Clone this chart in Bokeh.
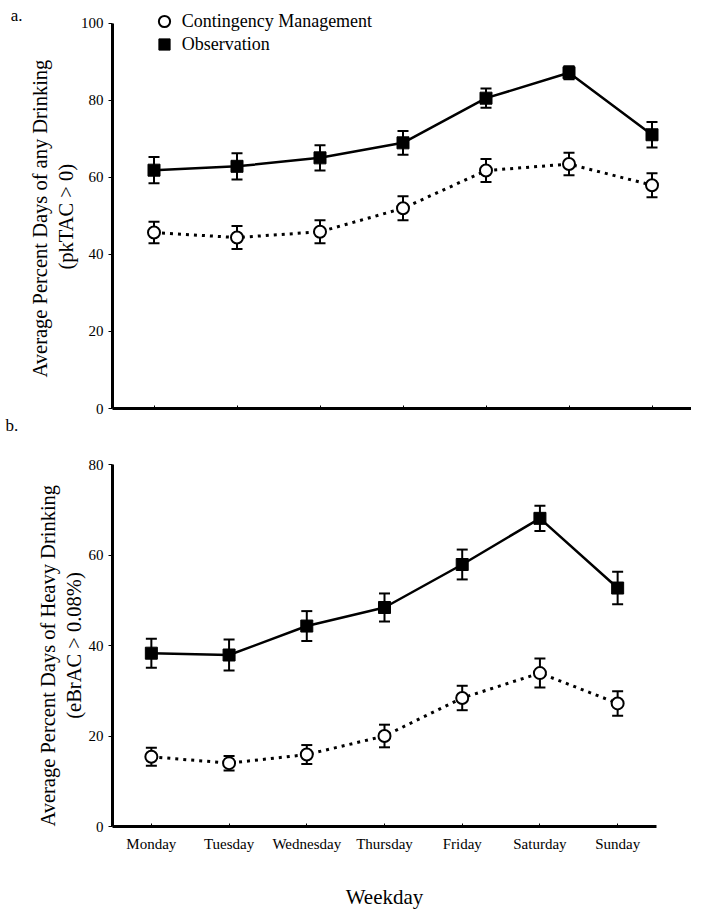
from bokeh.plotting import figure
from bokeh.models import (ColumnDataSource, Whisker, Legend, LegendItem, Title, LinearAxis,
                          FactorRange, TeeHead, Range1d, FixedTicker)
from bokeh.layouts import column
from bokeh.embed import file_html
from bokeh.resources import INLINE

days = ["Monday", "Tuesday", "Wednesday", "Thursday", "Friday", "Saturday", "Sunday"]

# Panel a: any drinking (pkTAC > 0)
a_cm = [45.7, 44.4, 45.9, 52.0, 61.8, 63.5, 58.0]
a_cm_err = [2.8, 3.0, 3.0, 3.1, 3.0, 2.9, 3.1]
a_obs = [61.9, 62.9, 65.1, 69.0, 80.6, 87.2, 71.1]
a_obs_err = [3.4, 3.4, 3.3, 3.1, 2.5, 1.7, 3.3]
a_yticks = [0, 20, 40, 60, 80, 100]

# Panel b: heavy drinking (eBrAC > 0.08%)
b_cm = [15.4, 14.0, 15.9, 20.0, 28.4, 33.9, 27.2]
b_cm_err = [2.0, 1.6, 2.1, 2.5, 2.7, 3.2, 2.7]
b_obs = [38.3, 37.9, 44.3, 48.4, 57.9, 68.1, 52.7]
b_obs_err = [3.2, 3.4, 3.3, 3.1, 3.3, 2.8, 3.6]
b_yticks = [0, 20, 40, 60, 80]

FONT = "Liberation Serif"


def side_title(p, text, side, size, **kw):
    t = Title(text=text, text_font=FONT, text_font_size=size, text_font_style="normal",
              text_color="black", **kw)
    p.add_layout(t, side)


def make_panel(cm, cm_err, obs, obs_err, yticks, ymax, yend, fw, fh, bl, bt, br, bb, show_x_labels):
    p = figure(x_range=FactorRange(*days), y_range=Range1d(0, yend),
               frame_width=fw, frame_height=fh,
               min_border_left=bl, min_border_top=bt, min_border_right=br, min_border_bottom=bb,
               output_backend="svg", toolbar_location=None)
    p.outline_line_color = None
    p.xgrid.visible = False
    p.ygrid.visible = False
    p.background_fill_color = "white"

    src = ColumnDataSource(dict(
        day=days, cm=cm, obs=obs,
        cm_lo=[v - e for v, e in zip(cm, cm_err)], cm_hi=[v + e for v, e in zip(cm, cm_err)],
        obs_lo=[v - e for v, e in zip(obs, obs_err)], obs_hi=[v + e for v, e in zip(obs, obs_err)],
    ))

    for lo, hi in (("cm_lo", "cm_hi"), ("obs_lo", "obs_hi")):
        w = Whisker(base="day", lower=lo, upper=hi, source=src, line_color="black", line_width=2,
                    upper_head=TeeHead(size=11, line_width=2, line_color="black"),
                    lower_head=TeeHead(size=11, line_width=2, line_color="black"))
        p.add_layout(w)

    p.line("day", "obs", source=src, line_color="black", line_width=2.5)
    p.line("day", "cm", source=src, line_color="black", line_width=3, line_dash="3 5")
    r_obs = p.scatter("day", "obs", source=src, marker="square", size=12,
                      fill_color="black", line_color="black")
    r_cm = p.scatter("day", "cm", source=src, marker="circle", size=12,
                     fill_color="white", line_color="black", line_width=2)

    p.yaxis.ticker = FixedTicker(ticks=yticks)
    p.yaxis.bounds = (0, ymax)
    p.yaxis.minor_tick_line_color = None
    p.yaxis.major_tick_out = 4
    p.yaxis.major_tick_in = 0
    p.yaxis.major_label_standoff = 5
    for ax in (p.xaxis[0], p.yaxis[0]):
        ax.axis_line_width = 3
        ax.axis_line_color = "black"
        ax.major_tick_line_color = "black"
        ax.major_label_text_font = FONT
        ax.major_label_text_font_size = "15px"
        ax.major_label_text_color = "black"
    p.xaxis.major_tick_in = 3
    p.xaxis.major_tick_out = 0
    if show_x_labels:
        p.xaxis.major_label_standoff = 9
        p.xaxis.axis_label = "Weekday"
        p.xaxis.axis_label_text_font = FONT
        p.xaxis.axis_label_text_font_size = "21px"
        p.xaxis.axis_label_text_font_style = "normal"
        p.xaxis.axis_label_text_color = "black"
        p.xaxis.axis_label_standoff = 30
    else:
        p.xaxis.major_label_text_font_size = "1px"
        p.xaxis.major_label_text_color = None
        p.xaxis.major_label_standoff = 0
    return p, r_cm, r_obs


def one_legend(p, label, renderer, loc):
    lg = Legend(items=[LegendItem(label=label, renderers=[renderer])],
                location=loc, glyph_height=28, glyph_width=28,
                padding=0, margin=0, label_standoff=4, border_line_color=None,
                background_fill_alpha=0, label_text_font=FONT,
                label_text_font_size="18px", label_text_color="black")
    p.add_layout(lg)


# Panel a (frame extends a little above 100 so the legend sits inside it)
pa, a_rcm, a_robs = make_panel(a_cm, a_cm_err, a_obs, a_obs_err, a_yticks, 100, 105.45,
                               581, 406, 110, 2, 0, 36, False)
one_legend(pa, "Contingency Management", a_rcm, (43, 373))
one_legend(pa, "Observation", a_robs, (43, 350))
side_title(pa, "(pkTAC > 0)", "left", "20.5px", align="left", offset=139, standoff=2)
side_title(pa, "Average Percent  Days of any Drinking", "left", "20.5px", align="left",
           offset=31, standoff=2)
panel_a_tag = LinearAxis(ticker=FixedTicker(ticks=[102]), major_label_overrides={102: "a."},
                         axis_line_color=None, major_tick_line_color=None,
                         minor_tick_line_color=None, major_tick_out=0, major_tick_in=0,
                         major_label_standoff=3, major_label_text_font=FONT,
                         major_label_text_font_size="17px", major_label_text_color="black")
pa.add_layout(panel_a_tag, "left")
side_title(pa, "b.", "below", "17px", align="left", offset=-107, standoff=10)

# Panel b
pb, _, _ = make_panel(b_cm, b_cm_err, b_obs, b_obs_err, b_yticks, 80, 80,
                      544, 362, 112, 20, 35, 86, True)
side_title(pb, "(eBrAC > 0.08%)", "left", "20.5px", align="center", standoff=2)
side_title(pb, "Average  Percent  Days of  Heavy  Drinking", "left", "20.5px", align="center",
           standoff=2)

layout = column(pa, pb, spacing=0)
open("out.html", "w").write(file_html(layout, INLINE))
